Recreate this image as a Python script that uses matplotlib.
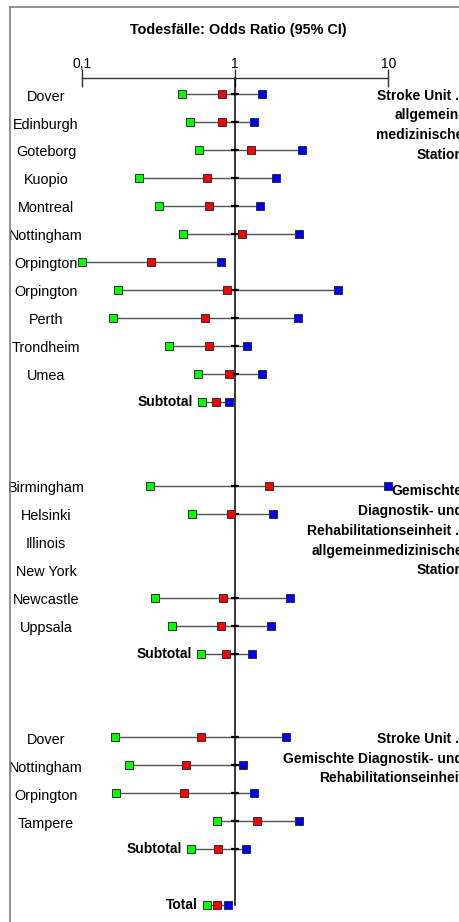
import numpy as np
import matplotlib
matplotlib.use('Agg')
import matplotlib.pyplot as plt
from matplotlib.lines import Line2D
from matplotlib import transforms
from matplotlib import font_manager

# narrow font if there is one, else plain Liberation Sans a bit smaller
names = {f.name for f in font_manager.fontManager.ttflist}
if 'Liberation Sans Narrow' in names:
    family, k = 'Liberation Sans Narrow', 1.0
else:
    family, k = 'Liberation Sans', 0.83
plt.rcParams['font.family'] = [family, 'DejaVu Sans']

# rows from top to bottom, '' = empty row
studies = ['Dover', 'Edinburgh', 'Goteborg', 'Kuopio', 'Montreal', 'Nottingham',
           'Orpington', 'Orpington', 'Perth', 'Trondheim', 'Umea', 'Subtotal', '', '',
           'Birmingham', 'Helsinki', 'Illinois', 'New York', 'Newcastle', 'Uppsala',
           'Subtotal', '', '',
           'Dover', 'Nottingham', 'Orpington', 'Tampere', 'Subtotal', '', 'Total']
lower = [0.449, 0.51, 0.585, 0.238, 0.319, 0.456, 0.10, 0.173, 0.16, 0.373, 0.571, 0.609, None, None,
         0.279, 0.522, None, None, 0.302, 0.388, 0.603, None, None,
         0.164, 0.205, 0.167, 0.76, 0.516, None, 0.657]
odds = [0.82, 0.82, 1.28, 0.66, 0.68, 1.105, 0.282, 0.887, 0.637, 0.673, 0.914, 0.748, None, None,
        1.67, 0.946, None, None, 0.835, 0.81, 0.877, None, None,
        0.597, 0.481, 0.467, 1.40, 0.778, None, 0.767]
upper = [1.49, 1.33, 2.74, 1.85, 1.46, 2.63, 0.81, 4.68, 2.56, 1.20, 1.50, 0.914, None, None,
         10.0, 1.76, None, None, 2.30, 1.71, 1.29, None, None,
         2.15, 1.13, 1.33, 2.60, 1.18, None, 0.90]

groups = ['Stroke Unit ./\nallgemein-\nmedizinische\nStation',
          'Gemischte\nDiagnostik- und\nRehabilitationseinheit ./\nallgemeinmedizinische\nStation',
          'Stroke Unit ./\nGemischte Diagnostik- und\nRehabilitationseinheit']
group_rows = [0, 14, 23]
group_shift = [-0.2, -0.05, -0.2]

title = 'Todesfälle: Odds Ratio (95% CI)'
ticks = [0.1, 1, 10]
ticklabels = ['0,1', '1', '10']

W, H = 460, 922
fig = plt.figure(figsize=(W / 100, H / 100), dpi=100)
fig.patch.set_facecolor('white')
ax = fig.add_axes([81.7 / W, 1 - 915 / H, (388.3 - 81.7) / W, (915 - 78) / H])
ax.set_xscale('log')
ax.set_xlim(0.1, 10)
ax.set_ylim(29.35, -0.583)
ax.patch.set_alpha(0)

for s in ['left', 'right', 'bottom']:
    ax.spines[s].set_visible(False)
ax.spines['top'].set_color('#333333')
ax.spines['top'].set_linewidth(1.0)
ax.xaxis.tick_top()
ax.set_xticks(ticks)
ax.set_xticklabels(ticklabels, fontsize=12 * k)
ax.xaxis.set_minor_locator(matplotlib.ticker.NullLocator())
ax.tick_params(axis='x', direction='inout', length=13, width=1.0, color='#333333', pad=-1.5)
ax.set_yticks([])

rows = np.arange(len(studies))
lo = np.array([np.nan if v is None else v for v in lower])
pt = np.array([np.nan if v is None else v for v in odds])
hi = np.array([np.nan if v is None else v for v in upper])
has = ~np.isnan(pt)
last = rows[has][-1]

# reference line at OR = 1
ax.plot([1, 1], [ax.get_ylim()[1], last], color='black', lw=1.1, zorder=2, clip_on=False)

ax.hlines(rows[has], lo[has], hi[has], color='#505050', lw=1.0, zorder=1, clip_on=False)
cross = has & (lo < 1) & (hi > 1)
ax.plot(np.ones(cross.sum()), rows[cross], ls='none', marker='_', ms=6, mew=1.6,
        color='black', zorder=2)
for vals, col in [(lo, '#00ff00'), (pt, '#ff0000'), (hi, '#0000ff')]:
    ax.plot(vals[has], rows[has], ls='none', marker='s', ms=5.2, mfc=col,
            mec='#303030', mew=0.7, zorder=3, clip_on=False)

lab_tr = transforms.blended_transform_factory(fig.transFigure, ax.transData)
for r, name in zip(rows, studies):
    if not name:
        continue
    if name in ('Subtotal', 'Total'):
        ax.annotate(name, (lo[r], r), xytext=(-9, 0), textcoords='offset pixels',
                    ha='right', va='center', fontsize=12 * k, fontweight='bold')
    else:
        ax.text(46 / W, r + 0.08, name, transform=lab_tr, ha='center', va='center',
                fontsize=12.5 * k)

for r, dy, txt in zip(group_rows, group_shift, groups):
    ax.text(463 / W, r + dy, txt, transform=lab_tr, ha='right', va='top', fontsize=12 * k,
            fontweight='bold', linespacing=1.52, clip_on=False)

fig.text(238 / W, 1 - 30 / H, title, ha='center', va='center', fontsize=12.5 * k,
         fontweight='bold')

# frame of the original picture (right and bottom edges cut off)
fig.add_artist(Line2D([10 / W, 10 / W], [-0.01, 1 - 7 / H], transform=fig.transFigure,
                      color='#808080', lw=1.2))
fig.add_artist(Line2D([10 / W, 1.01], [1 - 7 / H, 1 - 7 / H], transform=fig.transFigure,
                      color='#808080', lw=1.2))

fig.savefig('out.png', dpi=100)
